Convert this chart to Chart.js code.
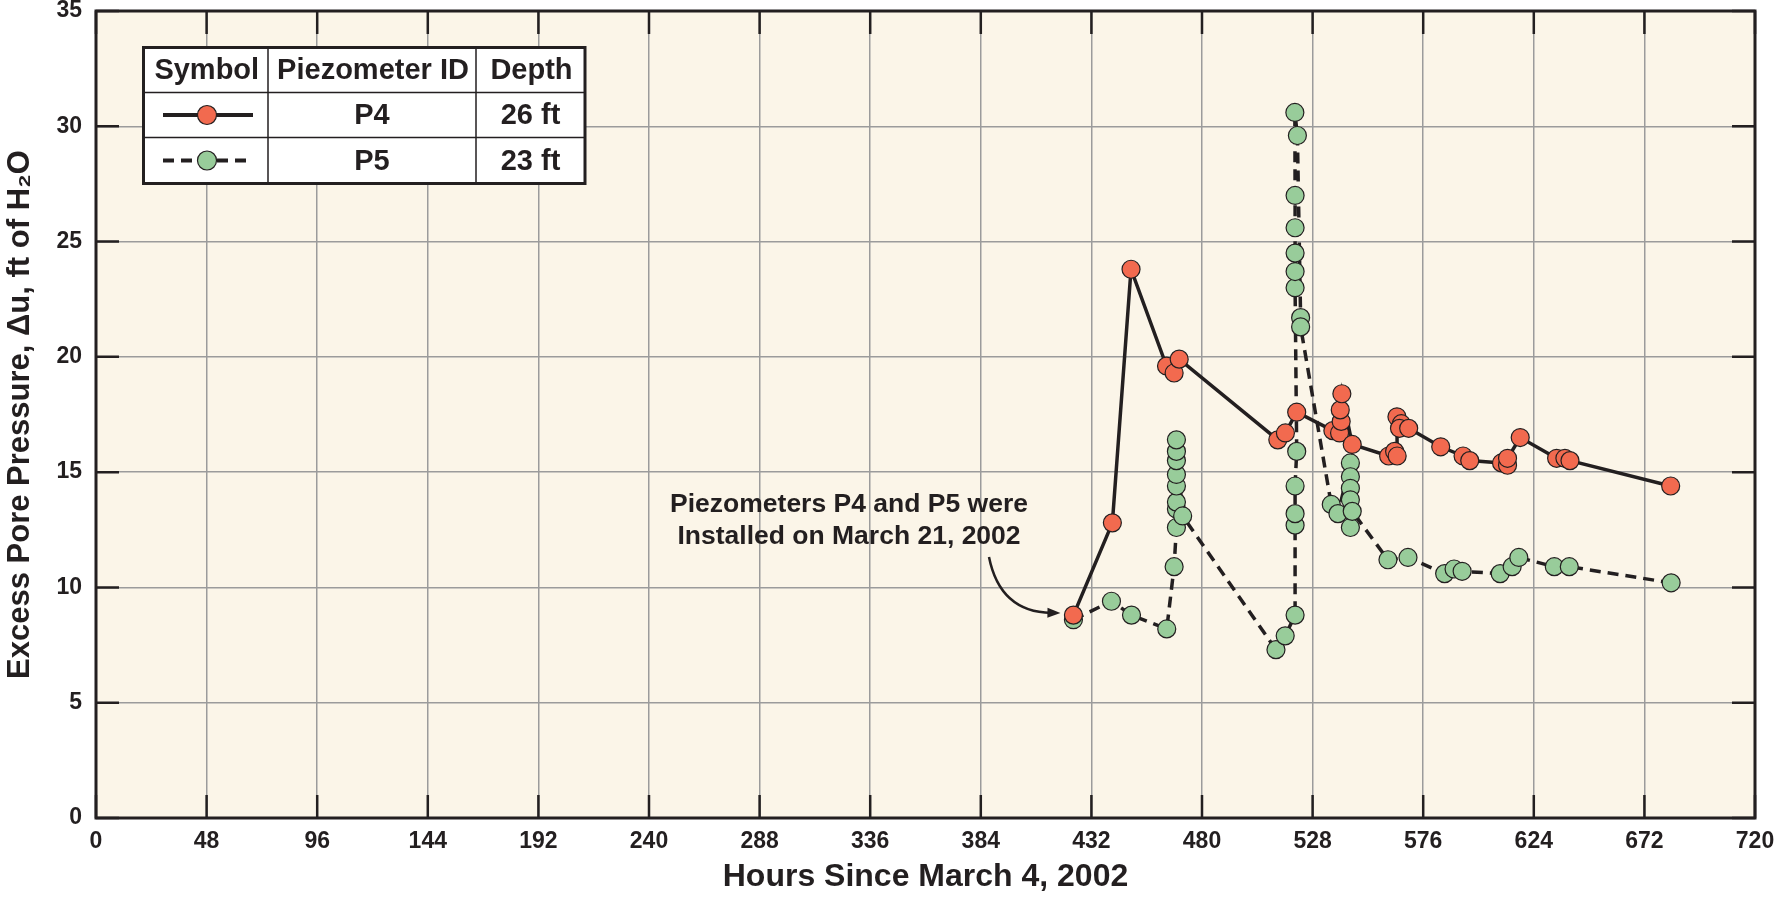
<!DOCTYPE html>
<html>
<head>
<meta charset="utf-8">
<title>Excess Pore Pressure - P4 / P5</title>
<script src="https://cdn.jsdelivr.net/npm/chart.js@4.4.1/dist/chart.umd.min.js"></script>
<style>
  html, body { margin: 0; padding: 0; background: #fff; }
  canvas { display: block; }
</style>
</head>
<body>
<canvas id="poreChart" width="1775" height="899"></canvas>
<script>
const hourTicks = [0, 48, 96, 144, 192, 240, 288, 336, 384, 432, 480, 528, 576, 624, 672, 720];
const pressureTicks = [0, 5, 10, 15, 20, 25, 30, 35];

// P4, 26 ft
const p4Hours = [424.2, 441.1, 449.2, 464.6, 467.9, 470.1, 512.9, 516.2, 521.1, 536.8, 539.7, 540.4, 540.0, 540.7,
    545.2, 561.0, 563.6, 564.7, 564.6, 566.5, 565.7, 569.7, 583.6, 593.3, 596.2, 610.0, 612.6, 612.6, 618.1,
    633.9, 637.5, 639.7, 683.4];
const p4Pressure = [8.8, 12.8, 23.8, 19.6, 19.3, 19.9, 16.4, 16.7, 17.6, 16.8, 16.7, 17.2, 17.7, 18.4,
    16.2, 15.7, 15.9, 15.7, 17.4, 17.1, 16.9, 16.9, 16.1, 15.7, 15.5, 15.4, 15.3, 15.6, 16.5,
    15.6, 15.6, 15.5, 14.4];

// P5, 23 ft
const p5Hours = [424.2, 440.7, 449.4, 464.7, 467.9, 468.9, 468.9, 468.9, 468.9, 468.9, 468.9, 468.9, 468.9, 471.6,
    512.1, 516.1, 520.4, 520.4, 520.4, 520.4, 521.1, 520.4, 520.4, 520.4, 520.4, 520.4, 520.3, 521.4, 522.8, 522.8,
    536.1, 539.0, 544.4, 544.4, 544.4, 544.4, 544.4, 545.2, 560.7, 569.4, 585.3, 589.4, 592.9, 609.4, 614.6, 617.5,
    632.9, 639.4, 683.6];
const p5Pressure = [8.6, 9.4, 8.8, 8.2, 10.9, 12.6, 13.4, 13.7, 14.4, 14.9, 15.5, 15.9, 16.4, 13.1,
    7.3, 7.9, 8.8, 12.7, 13.2, 14.4, 15.9, 23.0, 23.7, 24.5, 25.6, 27.0, 30.6, 29.6, 21.7, 21.3,
    13.6, 13.2, 15.4, 14.8, 14.3, 13.8, 12.6, 13.3, 11.2, 11.3, 10.6, 10.8, 10.7, 10.6, 10.9, 11.3,
    10.9, 10.9, 10.2];

const legendHeaders = ['Symbol', 'Piezometer ID', 'Depth'];
const piezometerIds = ['P4', 'P5'];
const depths = ['26 ft', '23 ft'];
const noteLines = ['Piezometers P4 and P5 were', 'Installed on March 21, 2002'];

const INK = '#231f20';
const RED = '#f26a4f';
const GREEN = '#98cc9a';
const P5_DASH = [11, 7];
const FONT = '"Liberation Sans", Arial, Helvetica, sans-serif';

function toPoints(xs, ys) {
    return xs.map((h, i) => ({ x: h, y: ys[i] }));
}

// cream plot area, inner ticks, frame, note with arrow, legend table
const paperPlugin = {
    id: 'paper',
    beforeDraw(chart) {
        const { ctx, chartArea: a } = chart;
        ctx.save();
        ctx.fillStyle = '#fbf5e8';
        ctx.fillRect(a.left, a.top, a.right - a.left, a.bottom - a.top);
        ctx.restore();
    },
    afterDraw(chart) {
        const { ctx, chartArea: a, scales: { x, y } } = chart;
        ctx.save();

        ctx.strokeStyle = INK;
        ctx.lineWidth = 2.5;
        ctx.beginPath();
        hourTicks.forEach(h => {
            const px = x.getPixelForValue(h);
            ctx.moveTo(px, a.top); ctx.lineTo(px, a.top + 23);
            ctx.moveTo(px, a.bottom); ctx.lineTo(px, a.bottom - 23);
        });
        pressureTicks.forEach(v => {
            const py = y.getPixelForValue(v);
            ctx.moveTo(a.left, py); ctx.lineTo(a.left + 23, py);
            ctx.moveTo(a.right, py); ctx.lineTo(a.right - 23, py);
        });
        ctx.stroke();
        ctx.lineWidth = 3;
        ctx.strokeRect(a.left, a.top, a.right - a.left, a.bottom - a.top);

        // note
        ctx.fillStyle = INK;
        ctx.font = `bold 26.5px ${FONT}`;
        ctx.textAlign = 'center';
        ctx.textBaseline = 'middle';
        ctx.fillText(noteLines[0], 849, 505);
        ctx.fillText(noteLines[1], 849, 537);

        // curved arrow to the first reading
        const ex = x.getPixelForValue(p4Hours[0]) - 13;
        const ey = y.getPixelForValue(p4Pressure[0]) - 2;
        const sx = 989, sy = 557, cx = 1000, cy = 612;
        const ang = Math.atan2(ey - cy, ex - cx);
        const headLen = 13;
        ctx.lineWidth = 2.5;
        ctx.beginPath();
        ctx.moveTo(sx, sy);
        ctx.quadraticCurveTo(cx, cy, ex - headLen * Math.cos(ang) * 0.7, ey - headLen * Math.sin(ang) * 0.7);
        ctx.stroke();
        ctx.beginPath();
        ctx.moveTo(ex, ey);
        ctx.lineTo(ex - headLen * Math.cos(ang) + 5 * Math.sin(ang), ey - headLen * Math.sin(ang) - 5 * Math.cos(ang));
        ctx.lineTo(ex - headLen * Math.cos(ang) - 5 * Math.sin(ang), ey - headLen * Math.sin(ang) + 5 * Math.cos(ang));
        ctx.closePath();
        ctx.fill();

        // legend table
        const L = 143.5, R = 585, T = 47.5, B = 183.5;
        const cols = [L, 268, 476, R];
        const rows = [T, 92.5, 137.5, B];
        ctx.fillStyle = '#fff';
        ctx.fillRect(L, T, R - L, B - T);
        ctx.strokeStyle = INK;
        ctx.lineWidth = 1.5;
        ctx.beginPath();
        [cols[1], cols[2]].forEach(c => { ctx.moveTo(c, T); ctx.lineTo(c, B); });
        [rows[1], rows[2]].forEach(r => { ctx.moveTo(L, r); ctx.lineTo(R, r); });
        ctx.stroke();
        ctx.lineWidth = 3;
        ctx.strokeRect(L, T, R - L, B - T);

        ctx.fillStyle = INK;
        ctx.font = `bold 29px ${FONT}`;
        legendHeaders.forEach((t, i) => {
            ctx.fillText(t, (cols[i] + cols[i + 1]) / 2 + 1, (rows[0] + rows[1]) / 2 + 1);
        });
        const fills = [RED, GREEN];
        const dashes = [[], P5_DASH];
        piezometerIds.forEach((id, r) => {
            const my = (rows[r + 1] + rows[r + 2]) / 2;
            ctx.fillStyle = INK;
            ctx.fillText(id, (cols[1] + cols[2]) / 2, my + 1);
            ctx.fillText(depths[r], (cols[2] + cols[3]) / 2, my + 1);
            ctx.save();
            ctx.setLineDash(dashes[r]);
            ctx.lineWidth = 4;
            ctx.beginPath();
            ctx.moveTo(163, my); ctx.lineTo(253, my);
            ctx.stroke();
            ctx.restore();
            ctx.beginPath();
            ctx.arc(207, my, 9.5, 0, Math.PI * 2);
            ctx.fillStyle = fills[r];
            ctx.fill();
            ctx.lineWidth = 1.2;
            ctx.stroke();
        });

        ctx.restore();
    }
};

const tickFont = { family: FONT, size: 23, weight: 'bold' };

new Chart(document.getElementById('poreChart').getContext('2d'), {
    type: 'line',
    data: {
        datasets: [
            {
                label: 'P4',
                data: toPoints(p4Hours, p4Pressure),
                borderColor: INK,
                borderWidth: 3.5,
                pointRadius: 9,
                pointBackgroundColor: RED,
                pointBorderColor: INK,
                pointBorderWidth: 1.2,
                tension: 0
            },
            {
                label: 'P5',
                data: toPoints(p5Hours, p5Pressure),
                borderColor: INK,
                borderWidth: 3.5,
                borderDash: P5_DASH,
                pointRadius: 9,
                pointBackgroundColor: GREEN,
                pointBorderColor: INK,
                pointBorderWidth: 1.2,
                tension: 0
            }
        ]
    },
    options: {
        responsive: false,
        devicePixelRatio: 1,
        animation: false,
        layout: { padding: { left: 0, right: 20, top: 11, bottom: 0 } },
        scales: {
            x: {
                type: 'linear',
                min: 0,
                max: 720,
                afterBuildTicks: s => { s.ticks = hourTicks.map(v => ({ value: v })); },
                afterFit: s => { s.height = 81; s.paddingLeft = 0; s.paddingRight = 0; },
                grid: { color: '#9b9b9b', lineWidth: 1.5, drawTicks: false },
                border: { display: false },
                ticks: { color: INK, font: tickFont, padding: 10, maxRotation: 0, autoSkip: false },
                title: {
                    display: true,
                    text: 'Hours Since March 4, 2002',
                    color: INK,
                    font: { family: FONT, size: 32, weight: 'bold', lineHeight: 1 },
                    padding: { top: 0, bottom: 6 }
                }
            },
            y: {
                min: 0,
                max: 35,
                afterBuildTicks: s => { s.ticks = pressureTicks.map(v => ({ value: v })); },
                afterFit: s => { s.width = 96; s.paddingTop = 0; s.paddingBottom = 0; },
                grid: { color: '#9b9b9b', lineWidth: 1.5, drawTicks: false },
                border: { display: false },
                ticks: { color: INK, font: tickFont, padding: 14 },
                title: {
                    display: true,
                    text: 'Excess Pore Pressure, \u0394u, ft of H\u2082O',
                    color: INK,
                    font: { family: FONT, size: 31, weight: 'bold', lineHeight: 1 },
                    padding: { top: 5, bottom: 0 }
                }
            }
        },
        plugins: {
            legend: { display: false },
            tooltip: { enabled: false }
        }
    },
    plugins: [paperPlugin]
});
</script>
</body>
</html>
